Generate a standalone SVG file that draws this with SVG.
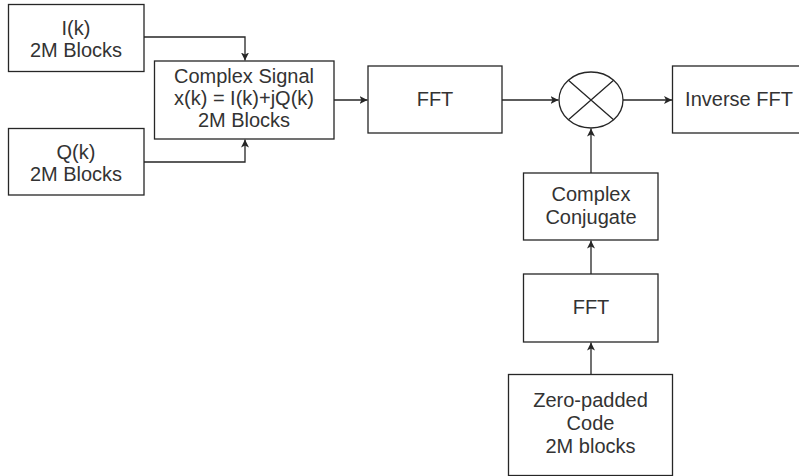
<svg xmlns="http://www.w3.org/2000/svg" width="799" height="476" viewBox="0 0 799 476">
<style>
.box{fill:#fff;stroke:#262626;stroke-width:1.3}
.t{font-family:"Liberation Sans",Arial,sans-serif;font-size:20px;fill:#333;text-anchor:middle}
.c{fill:none;stroke:#262626;stroke-width:1.3}
</style>
<defs>
<marker id="ah" viewBox="0 0 10 10" refX="10" refY="5" markerWidth="8" markerHeight="8" markerUnits="userSpaceOnUse" orient="auto">
<path d="M0,0 L10,5 L0,10 L2.5,5 Z" fill="#262626"/>
</marker>
</defs>
<rect width="799" height="476" fill="#fff"/>
<g id="connectors">
<path class="c" d="M144,37 H245 V60.5" marker-end="url(#ah)"/>
<path class="c" d="M144,162 H245 V139.5" marker-end="url(#ah)"/>
<path class="c" d="M334,100 H367.5" marker-end="url(#ah)"/>
<path class="c" d="M502,100 H558.5" marker-end="url(#ah)"/>
<path class="c" d="M623,100 H672" marker-end="url(#ah)"/>
<path class="c" d="M591,173 V128.5" marker-end="url(#ah)"/>
<path class="c" d="M591,274 V240.5" marker-end="url(#ah)"/>
<path class="c" d="M591,374.5 V342.5" marker-end="url(#ah)"/>
</g>
<g id="ik">
<rect class="box" x="8.5" y="4.5" width="135.5" height="67"/>
<text class="t" x="76" y="35">I(k)</text>
<text class="t" x="76" y="57">2M Blocks</text>
</g>
<g id="qk">
<rect class="box" x="8.5" y="128.5" width="135.5" height="66.5"/>
<text class="t" x="76" y="158.5">Q(k)</text>
<text class="t" x="76" y="180.5">2M Blocks</text>
</g>
<g id="complex">
<rect class="box" x="154.5" y="61" width="179.5" height="78"/>
<text class="t" x="244" y="83">Complex Signal</text>
<text class="t" x="244" y="105">x(k) = I(k)+jQ(k)</text>
<text class="t" x="244" y="127">2M Blocks</text>
</g>
<g id="fft1">
<rect class="box" x="368" y="66" width="134" height="67"/>
<text class="t" x="435" y="106">FFT</text>
</g>
<g id="mult">
<ellipse class="box" cx="591" cy="100" rx="32" ry="28"/>
<path class="c" d="M568.4,80.2 L613.6,119.8 M613.6,80.2 L568.4,119.8"/>
</g>
<g id="ifft">
<rect class="box" x="672.5" y="66" width="134" height="67"/>
<text class="t" x="739" y="106">Inverse FFT</text>
</g>
<g id="conj">
<rect class="box" x="523.5" y="173" width="134.5" height="67"/>
<text class="t" x="591" y="201">Complex</text>
<text class="t" x="591" y="224">Conjugate</text>
</g>
<g id="fft2">
<rect class="box" x="523.5" y="274" width="134.5" height="68"/>
<text class="t" x="591" y="314">FFT</text>
</g>
<g id="zero">
<rect class="box" x="508.5" y="374.5" width="164" height="101"/>
<text class="t" x="590.5" y="407">Zero-padded</text>
<text class="t" x="590.5" y="430">Code</text>
<text class="t" x="590.5" y="453">2M blocks</text>
</g>
</svg>
